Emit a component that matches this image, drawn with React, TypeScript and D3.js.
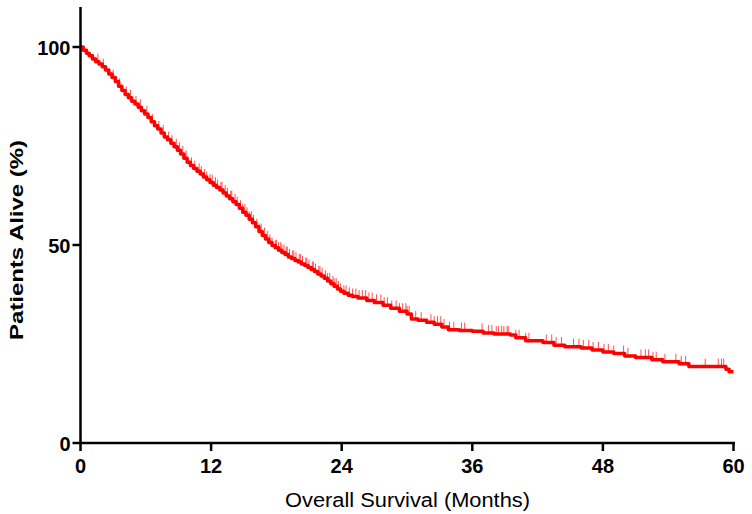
import React from "react";
import * as d3 from "d3";

const stepTimes = [
  0, 0.25, 0.55, 0.8, 1.1, 1.4, 1.7, 2.0, 2.3, 2.6, 2.9, 3.2, 3.5, 3.8, 4.1, 4.4, 4.7, 5.0, 5.3, 5.6, 5.9,
  6.2, 6.5, 6.8, 7.1, 7.4, 7.7, 8.0, 8.3, 8.6, 8.9, 9.2, 9.5, 9.8, 10.1, 10.4, 10.7, 11.0, 11.3, 11.6, 11.9,
  12.2, 12.5, 12.8, 13.1, 13.4, 13.7, 14.0, 14.3, 14.6, 14.9, 15.2, 15.5, 15.8, 16.1, 16.4, 16.7, 17.0, 17.3,
  17.6, 17.9, 18.2, 18.5, 18.8, 19.1, 19.4, 19.7, 20.0, 20.3, 20.6, 20.9, 21.2, 21.5, 21.8, 22.1, 22.4, 22.7,
  23.0, 23.3, 23.6, 23.9, 24.2, 24.6, 25.0, 25.5, 26.3, 27.0, 27.8, 28.5, 29.3, 30.0, 30.4, 31.0, 31.8, 32.5,
  33.2, 33.8, 34.8, 36.0, 37.0, 38.0, 39.5, 40.0, 40.9, 42.5, 43.5, 44.5, 46.0, 47.0, 48.0, 49.0, 50.0, 51.0,
  52.5, 53.5, 55.0, 55.9, 59.3, 59.6, 60
];
const stepSurvival = [
  100, 99.2, 98.4, 97.8, 97.0, 96.3, 95.7, 95.0, 94.2, 93.2, 92.3, 91.3, 90.1, 89.0, 88.0, 87.2, 86.3, 85.6, 84.8, 83.9, 83.1,
  82.2, 81.1, 80.1, 79.3, 78.3, 77.3, 76.6, 75.7, 74.8, 73.9, 73.0, 71.9, 70.9, 70.1, 69.3, 68.6, 67.9, 67.2, 66.5, 65.8,
  65.1, 64.5, 63.9, 63.1, 62.4, 61.7, 60.9, 60.2, 59.3, 58.3, 57.5, 56.5, 55.6, 54.6, 53.4, 52.4, 51.5, 50.6,
  49.9, 49.3, 48.7, 48.1, 47.6, 47.0, 46.6, 46.1, 45.7, 45.2, 44.8, 44.3, 43.8, 43.3, 42.7, 42.2, 41.6, 40.9,
  40.2, 39.6, 38.9, 38.3, 37.8, 37.3, 37.0, 36.6, 36.0, 35.5, 34.8, 34.0, 33.3, 32.6, 31.3, 31.0, 30.5, 30.0,
  29.3, 28.6, 28.4, 28.2, 27.8, 27.5, 27.3, 26.6, 25.8, 25.4, 24.7, 24.3, 24.0, 23.5, 23.0, 22.6, 22.0, 21.6,
  21.0, 20.5, 20.0, 19.3, 18.6, 18.0, 18.0
];

const censorTimes = [
  1.6, 2.1, 3.0, 3.6, 4.2, 4.6, 5.1, 5.5, 6.1, 6.6, 7.2, 7.6, 8.1, 8.4, 8.8, 9.1, 9.4, 9.7, 10.2, 10.5, 10.9, 11.1, 11.4, 11.6, 11.9,
  12.1, 12.4, 12.6, 12.9, 13.0, 13.3, 13.5, 13.8, 13.9, 14.2, 14.4, 14.7, 14.9, 15.1, 15.3, 15.5, 15.7, 15.9, 16.2, 16.4, 16.6, 16.9, 17.2, 17.4, 17.6, 17.9,
  18.0, 18.2, 18.4, 18.5, 18.7, 18.9, 19.0, 19.2, 19.5, 19.6, 19.8, 20.1, 20.2, 20.4, 20.7, 20.8, 21.0, 21.3, 21.4, 21.6, 21.9, 22.0, 22.2, 22.5, 22.7, 22.9,
  23.2, 23.3, 23.5, 23.7, 23.9, 24.2, 24.4, 24.7, 25.0, 25.3, 25.6, 25.9, 26.2, 26.5, 26.8, 27.2, 27.6, 27.9, 28.2, 28.6,
  29.0, 29.3, 29.6, 29.9, 30.0, 30.2, 30.8, 31.3, 32.2, 32.5, 32.8, 33.1, 33.4, 33.9, 34.3, 35.0,
  35.3, 36.9, 37.5, 37.8, 38.2, 38.4, 38.7, 38.9, 39.2, 39.3, 40.0, 40.3, 40.9, 41.2, 42.8, 43.3,
  43.7, 44.2, 45.3, 45.8, 46.2, 46.7, 47.1, 47.6, 48.1, 48.5, 49.0, 49.9, 50.3, 51.5, 51.9, 52.2,
  52.6, 52.9, 53.7, 54.7, 55.2, 55.6, 57.4, 58.6, 58.9, 59.1
];

const xTicks = [0, 12, 24, 36, 48, 60];
const yTicks = [0, 50, 100];

const xLabel = "Overall Survival (Months)";
const yLabel = "Patients Alive (%)";

export default function App() {
  const W = 752, H = 514;
  const x = d3.scaleLinear().domain([0, 60]).range([80.5, 733.5]);
  const y = d3.scaleLinear().domain([0, 110]).range([443, 7.4]);

  const pts: [number, number][] = stepTimes.map((t, i) => [t, stepSurvival[i]]);
  const line = d3.line<[number, number]>()
    .x(d => x(d[0]))
    .y(d => y(d[1]))
    .curve(d3.curveStepAfter);

  const bis = d3.bisector((t: number) => t).right;
  const survAt = (t: number) => {
    const i = Math.max(0, bis(stepTimes, t) - 1);
    return stepSurvival[i];
  };

  const font = "'Liberation Sans', Arial, sans-serif";
  const axisY0 = y(0);
  const axisX0 = x(0);

  return (
    <svg width={W} height={H} style={{ position: "absolute", left: 0, top: 0, background: "#fff" }}>
      <rect width={W} height={H} fill="#fff" />
      <g stroke="#ff5050" strokeWidth={1}>
        {censorTimes.map((t, i) => {
          const cx = x(t);
          const cy = y(survAt(t));
          return <line key={i} x1={cx} x2={cx} y1={cy} y2={cy - 8} />;
        })}
      </g>
      <path d={line(pts) || ""} fill="none" stroke="#ff0000" strokeWidth={3.5} strokeLinejoin="round" />
      <g stroke="#000" strokeWidth={2.5} fill="none">
        <line x1={axisX0} x2={axisX0} y1={7} y2={axisY0 + 1.2} />
        <line x1={axisX0 - 1.2} x2={735} y1={axisY0} y2={axisY0} />
        {yTicks.map(v => (
          <line key={"yt" + v} x1={axisX0 - 8} x2={axisX0} y1={y(v)} y2={y(v)} />
        ))}
        {xTicks.map(v => (
          <line key={"xt" + v} x1={x(v)} x2={x(v)} y1={axisY0} y2={axisY0 + 8} />
        ))}
      </g>
      <g fontFamily={font} fontWeight="bold" fontSize={20} fill="#000">
        {yTicks.map(v => (
          <text key={"yl" + v} x={axisX0 - 10} y={y(v)} dy="0.38em" textAnchor="end">{v}</text>
        ))}
        {xTicks.map(v => (
          <text key={"xl" + v} x={x(v)} y={axisY0 + 30} textAnchor="middle">{v}</text>
        ))}
      </g>
      <text x={(80 + 735) / 2} y={507} textAnchor="middle" fontFamily={font} fontSize={20} fill="#000"
        textLength={245} lengthAdjust="spacingAndGlyphs">{xLabel}</text>
      <text transform={`translate(23,240) rotate(-90)`} textAnchor="middle" fontFamily={font} fontWeight="bold" fontSize={19} fill="#000"
        textLength={200} lengthAdjust="spacingAndGlyphs">{yLabel}</text>
    </svg>
  );
}
